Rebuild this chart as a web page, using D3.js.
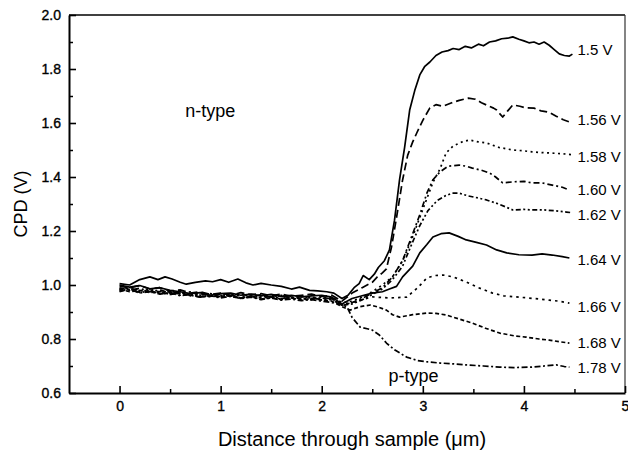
<!DOCTYPE html>
<html>
<head>
<meta charset="utf-8">
<script src="https://cdn.jsdelivr.net/npm/d3@7"></script>
<style>
  html, body { margin: 0; padding: 0; background: #fff; }
  svg text { font-family: "Liberation Sans", Arial, sans-serif; fill: #000; }
</style>
</head>
<body>
<svg id="chart" width="628" height="453"></svg>
<script>
// ---- data (x in µm, CPD in V) ----
const xTicks = [0, 1, 2, 3, 4, 5];
const yTicks = [0.6, 0.8, 1.0, 1.2, 1.4, 1.6, 1.8, 2.0];
const yTickLabels = ["0.6", "0.8", "1.0", "1.2", "1.4", "1.6", "1.8", "2.0"];

// flat (n-side) region sampled every 0.1 µm from 0 to 2.1
const flatX = [0,0.1,0.2,0.3,0.4,0.5,0.6,0.7,0.8,0.9,1.0,1.1,1.2,1.3,1.4,1.5,1.6,1.7,1.8,1.9,2.0,2.1];
const flat156 = [0.995,0.99,0.998,0.985,0.99,0.978,0.982,0.97,0.975,0.965,0.97,0.962,0.972,0.964,0.968,0.96,0.966,0.958,0.962,0.966,0.958,0.962];
const flat158 = [0.985,0.992,0.978,0.985,0.972,0.978,0.968,0.975,0.962,0.968,0.958,0.965,0.96,0.955,0.963,0.957,0.962,0.952,0.958,0.955,0.95,0.955];
const flat160 = [0.99,0.98,0.988,0.975,0.982,0.97,0.974,0.962,0.97,0.958,0.966,0.96,0.968,0.957,0.964,0.955,0.96,0.952,0.957,0.95,0.955,0.948];
const flat162 = [0.975,0.985,0.972,0.978,0.968,0.975,0.962,0.966,0.955,0.962,0.957,0.964,0.952,0.96,0.955,0.958,0.95,0.956,0.948,0.954,0.945,0.95];
const flat164 = [1.0,0.992,0.998,0.986,0.99,0.98,0.975,0.968,0.972,0.962,0.968,0.97,0.962,0.966,0.96,0.965,0.958,0.962,0.956,0.96,0.962,0.955];
const flat166 = [0.98,0.99,0.975,0.982,0.97,0.965,0.972,0.96,0.966,0.955,0.962,0.958,0.95,0.958,0.952,0.956,0.948,0.955,0.95,0.945,0.952,0.945];
const flat168 = [0.985,0.975,0.98,0.972,0.976,0.965,0.97,0.962,0.955,0.962,0.955,0.96,0.952,0.956,0.948,0.953,0.946,0.952,0.944,0.95,0.945,0.94];
const flat178 = [0.978,0.984,0.97,0.976,0.966,0.972,0.96,0.965,0.955,0.96,0.952,0.958,0.95,0.955,0.946,0.952,0.944,0.948,0.942,0.946,0.94,0.935];

const series150 = [[0,1.005],[0.1,1.0],[0.2,1.02],[0.3,1.03],[0.38,1.02],[0.45,1.03],[0.52,1.022],[0.6,1.01],[0.66,1.003],[0.75,1.01],[0.85,1.015],[0.92,1.012],[1.0,1.02],[1.08,1.01],[1.17,1.022],[1.25,1.008],[1.32,1.0],[1.4,1.006],[1.5,1.0],[1.6,0.995],[1.7,0.985],[1.78,0.992],[1.88,0.98],[1.96,0.978],[2.05,0.975],[2.12,0.97],[2.2,0.95],[2.26,0.962],[2.32,0.99],[2.37,1.005],[2.41,1.035],[2.47,1.02],[2.52,1.04],[2.56,1.065],[2.62,1.09],[2.67,1.13],[2.72,1.24],[2.77,1.39],[2.82,1.51],[2.87,1.648],[2.92,1.72],[2.97,1.778],[3.02,1.81],[3.07,1.826],[3.13,1.85],[3.19,1.863],[3.25,1.868],[3.3,1.876],[3.36,1.872],[3.42,1.884],[3.48,1.878],[3.55,1.892],[3.6,1.886],[3.66,1.9],[3.72,1.904],[3.78,1.912],[3.84,1.914],[3.89,1.919],[3.95,1.91],[4.0,1.904],[4.05,1.897],[4.1,1.9],[4.15,1.892],[4.2,1.9],[4.25,1.888],[4.3,1.872],[4.35,1.856],[4.4,1.85],[4.45,1.848],[4.48,1.855]];

const tail156 = [[2.2,0.94],[2.3,0.97],[2.4,0.99],[2.5,1.01],[2.55,1.03],[2.6,1.045],[2.64,1.06],[2.69,1.14],[2.74,1.25],[2.8,1.389],[2.85,1.48],[2.9,1.53],[2.94,1.563],[3.0,1.61],[3.07,1.656],[3.13,1.668],[3.2,1.662],[3.28,1.674],[3.36,1.684],[3.45,1.692],[3.52,1.688],[3.58,1.675],[3.64,1.665],[3.7,1.655],[3.73,1.648],[3.79,1.622],[3.84,1.645],[3.89,1.667],[3.96,1.662],[4.02,1.656],[4.1,1.655],[4.17,1.645],[4.25,1.64],[4.32,1.625],[4.39,1.612],[4.45,1.604]];
const tail158 = [[2.2,0.935],[2.3,0.94],[2.4,0.955],[2.5,0.975],[2.6,1.0],[2.7,1.03],[2.8,1.09],[2.88,1.16],[2.95,1.23],[3.02,1.3],[3.1,1.38],[3.17,1.43],[3.23,1.489],[3.3,1.515],[3.39,1.53],[3.46,1.537],[3.55,1.53],[3.63,1.526],[3.75,1.51],[3.89,1.5],[4.0,1.497],[4.08,1.493],[4.2,1.49],[4.3,1.488],[4.42,1.485],[4.47,1.483]];
const tail160 = [[2.2,0.93],[2.3,0.935],[2.4,0.95],[2.5,0.97],[2.6,0.99],[2.7,1.03],[2.8,1.09],[2.9,1.19],[2.97,1.26],[3.04,1.34],[3.1,1.39],[3.17,1.419],[3.25,1.44],[3.36,1.444],[3.43,1.44],[3.49,1.433],[3.58,1.425],[3.66,1.415],[3.72,1.4],[3.79,1.378],[3.89,1.382],[4.0,1.384],[4.08,1.378],[4.18,1.378],[4.28,1.37],[4.38,1.362],[4.45,1.352]];
const tail162 = [[2.2,0.925],[2.3,0.93],[2.4,0.945],[2.5,0.965],[2.6,0.985],[2.7,1.02],[2.8,1.07],[2.9,1.16],[2.97,1.22],[3.05,1.275],[3.14,1.312],[3.22,1.33],[3.29,1.34],[3.36,1.34],[3.45,1.33],[3.55,1.322],[3.63,1.315],[3.75,1.3],[3.89,1.278],[4.0,1.28],[4.08,1.278],[4.2,1.278],[4.3,1.275],[4.42,1.27],[4.47,1.268]];
const tail164 = [[2.2,0.93],[2.3,0.95],[2.4,0.96],[2.5,0.97],[2.6,0.975],[2.67,0.985],[2.74,0.995],[2.8,1.03],[2.9,1.07],[2.97,1.119],[3.04,1.15],[3.1,1.178],[3.18,1.19],[3.26,1.193],[3.35,1.18],[3.43,1.167],[3.53,1.158],[3.63,1.148],[3.73,1.13],[3.83,1.119],[3.95,1.112],[4.08,1.111],[4.18,1.115],[4.28,1.111],[4.38,1.105],[4.45,1.1]];
const tail166 = [[2.2,0.925],[2.3,0.935],[2.4,0.945],[2.5,0.956],[2.67,0.952],[2.84,0.955],[2.95,0.99],[3.04,1.026],[3.12,1.035],[3.2,1.037],[3.3,1.03],[3.43,1.011],[3.55,0.99],[3.69,0.97],[3.8,0.96],[3.92,0.956],[4.1,0.95],[4.25,0.944],[4.35,0.94],[4.45,0.933]];
const tail168 = [[2.2,0.92],[2.28,0.907],[2.38,0.92],[2.48,0.926],[2.56,0.918],[2.64,0.907],[2.7,0.89],[2.77,0.881],[2.9,0.89],[3.04,0.896],[3.13,0.895],[3.23,0.889],[3.35,0.875],[3.49,0.859],[3.62,0.84],[3.76,0.822],[3.9,0.812],[4.02,0.807],[4.15,0.8],[4.25,0.796],[4.35,0.79],[4.45,0.785]];
const tail178 = [[2.18,0.93],[2.25,0.919],[2.3,0.88],[2.38,0.844],[2.45,0.838],[2.5,0.833],[2.57,0.815],[2.64,0.785],[2.72,0.76],[2.84,0.733],[2.95,0.72],[3.05,0.715],[3.17,0.711],[3.3,0.708],[3.43,0.704],[3.6,0.7],[3.76,0.696],[3.9,0.694],[4.08,0.696],[4.2,0.7],[4.32,0.704],[4.4,0.698],[4.45,0.696]];

const seriesNames = ["1.5 V", "1.56 V", "1.58 V", "1.60 V", "1.62 V", "1.64 V", "1.66 V", "1.68 V", "1.78 V"];
const flats = [null, flat156, flat158, flat160, flat162, flat164, flat166, flat168, flat178];
const tails = [series150, tail156, tail158, tail160, tail162, tail164, tail166, tail168, tail178];
const seriesData = tails.map((t, i) => flats[i] ? flatX.map((xv, j) => [xv, flats[i][j]]).concat(t) : t);
// label anchor (value) for each curve label
const labelValues = [1.872, 1.613, 1.476, 1.354, 1.261, 1.094, 0.92, 0.787, 0.694];

// ---- styles ----
const dashes = [null, "8,4", "2,3.5", "6,3,2,3", "5,2.5,2,2.5,2,2.5", null, "2.5,4", "4,2.5", "6,2.5,2,2.5"];

const svg = d3.select("#chart");
const x = d3.scaleLinear().domain([-0.5, 5]).range([69, 625]);
const y = d3.scaleLinear().domain([0.6, 2.0]).range([393, 15]);

// frame top/right
svg.append("line").attr("x1", 69).attr("x2", 625).attr("y1", y(2.0)).attr("y2", y(2.0))
  .attr("stroke", "#000").attr("stroke-width", 1.5);
svg.append("line").attr("x1", x(5)).attr("x2", x(5)).attr("y1", y(2.0)).attr("y2", y(0.6))
  .attr("stroke", "#333").attr("stroke-width", 1.2);

// minor ticks
const xMinor = [0.5, 1.5, 2.5, 3.5, 4.5];
const yMinor = [0.7, 0.9, 1.1, 1.3, 1.5, 1.7, 1.9];
svg.append("g").attr("transform", `translate(0,${y(0.6)})`)
  .call(d3.axisBottom(x).tickValues(xMinor).tickSize(-4).tickFormat(""))
  .call(g => g.select(".domain").remove())
  .selectAll("line").attr("stroke-width", 1.5);
svg.append("g").attr("transform", `translate(${x(-0.5)},0)`)
  .call(d3.axisLeft(y).tickValues(yMinor).tickSize(-4).tickFormat(""))
  .call(g => g.select(".domain").remove())
  .selectAll("line").attr("stroke-width", 1.5);

// major axes
const gx = svg.append("g").attr("transform", `translate(0,${y(0.6)})`)
  .call(d3.axisBottom(x).tickValues(xTicks).tickSize(-7).tickPadding(8).tickSizeOuter(0).tickFormat(d3.format("d")));
gx.select(".domain").attr("stroke-width", 2);
gx.selectAll("line").attr("stroke-width", 1.6);
gx.selectAll("text").attr("font-size", 14).attr("font-family", "Liberation Sans, Arial, sans-serif")
  .attr("stroke", "#000").attr("stroke-width", 0.35);

const gy = svg.append("g").attr("transform", `translate(${x(-0.5)},0)`)
  .call(d3.axisLeft(y).tickValues(yTicks).tickSize(-7).tickPadding(8).tickSizeOuter(0)
    .tickFormat((d, i) => yTickLabels[i]));
gy.select(".domain").attr("stroke-width", 2);
gy.selectAll("line").attr("stroke-width", 1.6);
gy.selectAll("text").attr("font-size", 14).attr("font-family", "Liberation Sans, Arial, sans-serif")
  .attr("stroke", "#000").attr("stroke-width", 0.35);

// curves
const line = d3.line().x(d => x(d[0])).y(d => y(d[1]));
seriesData.forEach((s, i) => {
  svg.append("path").datum(s)
    .attr("d", line)
    .attr("fill", "none")
    .attr("stroke", "#000")
    .attr("stroke-width", 1.7)
    .attr("stroke-linejoin", "round")
    .attr("stroke-dasharray", dashes[i]);
});

// curve labels
seriesNames.forEach((n, i) => {
  svg.append("text")
    .attr("x", x(4.5) + 3)
    .attr("y", y(labelValues[i]))
    .attr("dy", "0.36em")
    .attr("font-size", 15)
    .text(n);
});

// region labels
svg.append("text").attr("x", x(0.65)).attr("y", y(1.623)).attr("font-size", 18).text("n-type");
svg.append("text").attr("x", x(2.66)).attr("y", y(0.64)).attr("font-size", 18).text("p-type");

// axis titles
svg.append("text").attr("x", x(2.3)).attr("y", 446).attr("text-anchor", "middle")
  .attr("font-size", 20).text("Distance through sample (\u03BCm)");
svg.append("text").attr("transform", `translate(27,${y(1.3)}) rotate(-90)`)
  .attr("text-anchor", "middle").attr("font-size", 18).text("CPD (V)");
</script>
</body>
</html>
